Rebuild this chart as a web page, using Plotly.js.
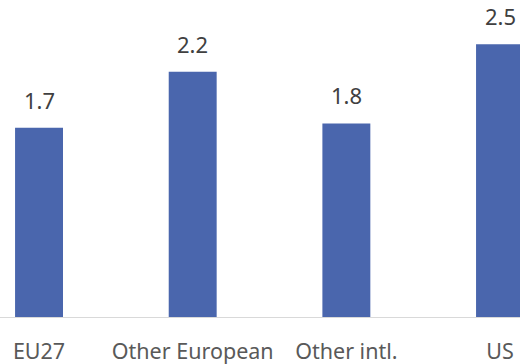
<!DOCTYPE html>
<html><head><meta charset="utf-8">
<script src="https://cdn.plot.ly/plotly-3.0.1.min.js"></script>
<style>html,body{margin:0;padding:0;background:#fff}#c{width:520px;height:364px}</style>
</head><body><div id="c"></div>
<script>
const categories = ["EU27", "Other European", "Other intl.", "US"];
const values = [1.72, 2.23, 1.76, 2.48];
const labelText = values.map(v => v.toFixed(1));

const trace = {
  type: "bar", x: categories, y: values,
  marker: {color: "#4a66ad"}, width: 0.312,
  hoverinfo: "none", cliponaxis: false
};
const annotations = categories.map((c, i) => ({
  x: c, y: values[i], text: labelText[i], showarrow: false,
  yanchor: "bottom", yshift: 11, xanchor: "center",
  font: {family: "Noto Sans", size: 22, color: "#404040"}
}));
const layout = {
  width: 520, height: 364,
  margin: {l: 0, r: 0, t: 0, b: 47},
  paper_bgcolor: "#fff", plot_bgcolor: "#fff",
  showlegend: false,
  font: {family: "Noto Sans", size: 21.5, color: "#595959"},
  xaxis: {range: [-0.254, 3.13], showline: true, linecolor: "#d9d9d9", linewidth: 1,
          showgrid: false, zeroline: false, ticks: "", fixedrange: true, ticklabelstandoff: 15},
  yaxis: {range: [0, 2.882], visible: false, fixedrange: true},
  annotations: annotations
};
Plotly.newPlot("c", [trace], layout, {staticPlot: true, displayModeBar: false});
</script></body></html>
